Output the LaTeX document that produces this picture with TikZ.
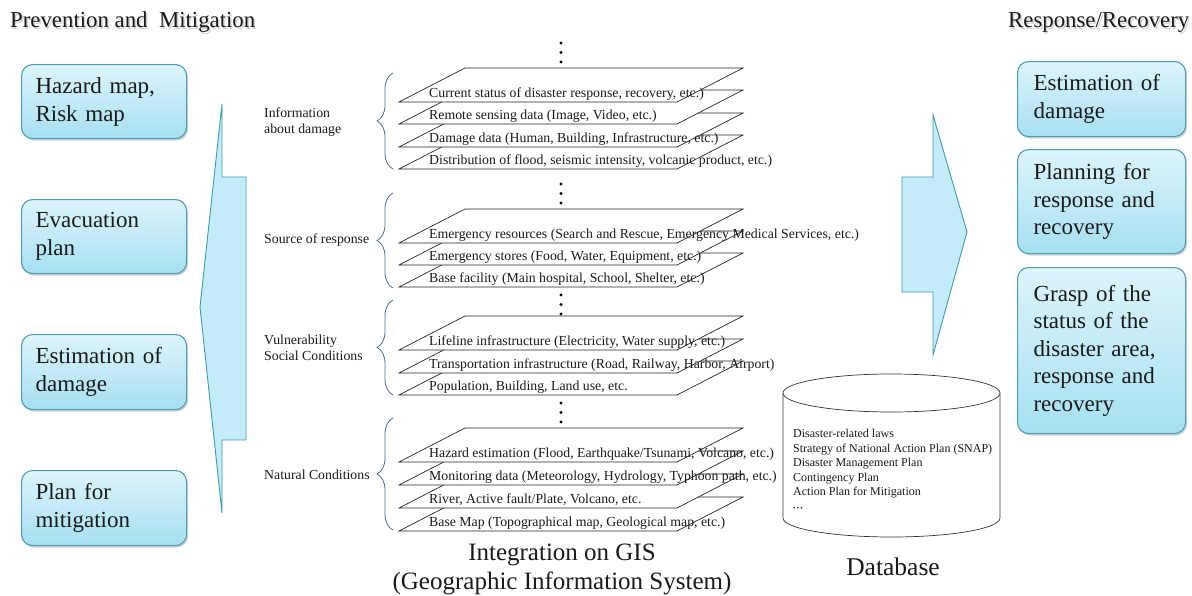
\documentclass[tikz,border=0pt]{standalone}
\usepackage{fontspec}
\setmainfont{Liberation Serif}
\usetikzlibrary{decorations.pathreplacing,shadows}
\definecolor{boxline}{HTML}{4E9DB4}
\definecolor{boxtop}{HTML}{DDF4FB}
\definecolor{boxbot}{HTML}{A6E0F1}
\definecolor{arrfill}{HTML}{C4ECF8}
\definecolor{arrline}{HTML}{3F9AAE}
\definecolor{bracec}{HTML}{4F6F8F}
\definecolor{txt}{HTML}{1A1A1A}
\begin{document}
\begin{tikzpicture}[x=1pt,y=-1pt,
  layer/.style={draw=black!85,fill=white,line width=0.7pt,line join=miter},
  laytext/.style={font=\fontsize{13.8}{16}\selectfont,anchor=base west,inner sep=0pt,text=txt},
  grouplabel/.style={font=\fontsize{13.8}{16.5}\selectfont,anchor=west,align=left,inner sep=0pt,text=txt},
  bracestyle/.style={draw=bracec,line width=0.8pt,decorate,decoration={brace,amplitude=16pt}},
  bigarrow/.style={fill=arrfill,draw=arrline,line width=0.9pt,line join=miter},
  cbox/.style={rounded corners=11pt,draw=boxline,line width=1.1pt,top color=boxtop,bottom color=boxbot,
    drop shadow={shadow xshift=1.5pt,shadow yshift=-2pt,opacity=0.35},
    text=txt,align=left,anchor=north west,inner ysep=0pt},
  lbox/.style={cbox,inner xsep=14pt,text width=137pt,font=\fontsize{23}{28}\selectfont},
  rbox/.style={cbox,inner xsep=16pt,text width=136pt,font=\fontsize{23}{27.5}\selectfont},
  title/.style={font=\fontsize{22.8}{26}\selectfont,text=txt,inner sep=0pt,anchor=west},
  tshadow/.style={title,text=black,opacity=0.18},
  dot/.style={fill=black}
]
\useasboundingbox (0,0) rectangle (1192,595);

% titles (with soft shadow)
\node[tshadow] (tlefts) at (11.5,24) {Prevention and~ Mitigation};
\node[tshadow] (trights) at (1009.5,24) {Response/Recovery};
\node[title] (tleft) at (10,22) {Prevention and~ Mitigation};
\node[title] (tright) at (1008,22) {Response/Recovery};

% left boxes
\node[lbox,minimum height=74pt] (hz) at (21,64) {Hazard map,\\Risk map};
\node[lbox,minimum height=74pt] (ev) at (21,199) {Evacuation\\plan};
\node[lbox,minimum height=75pt] (es) at (21,334) {Estimation of\\damage};
\node[lbox,minimum height=75pt] (pm) at (21,470) {Plan for\\mitigation};

% right boxes
\node[rbox,minimum height=75pt] (red) at (1017,61) {Estimation of\\damage};
\node[rbox,minimum height=104pt] (rpl) at (1017,149) {Planning for\\response and\\recovery};
\node[rbox,minimum height=166pt] (rgr) at (1017,267) {Grasp of the\\status of the\\disaster area,\\response and\\recovery};

% left arrow (pointing left)
\draw[bigarrow] (222,104) -- (222,177) -- (246,177) -- (246,440) -- (222,440) -- (222,513) -- (200,307) -- cycle;
% right arrow (pointing right)
\draw[bigarrow] (933,115) -- (967,232) -- (933,355) -- (933,292) -- (902,292) -- (902,177) -- (933,177) -- cycle;

% layers: bottom y given
\newcommand\lay[1]{\draw[layer] (399,#1) -- (677,#1) -- (743,{#1-34}) -- (465,{#1-34}) -- cycle;}
\newcommand\vdotsat[1]{\fill[dot] (561,#1) circle (1.7); \fill[dot] (561,{#1+9.5}) circle (1.7); \fill[dot] (561,{#1+19}) circle (1.7);}

% group 1
\vdotsat{43}
\lay{169}\lay{147}\lay{124}\lay{102}
\node[laytext] (g1a) at (429,97.5) {Current status of disaster response, recovery, etc.)};
\node[laytext] (g1b) at (429,119.5) {Remote sensing data (Image, Video, etc.)};
\node[laytext] (g1c) at (429,142.5) {Damage data (Human, Building, Infrastructure, etc.)};
\node[laytext] (g1d) at (429,164.5) {Distribution of flood, seismic intensity, volcanic product, etc.)};
\draw[bracestyle] (393,169) -- (393,73);
\node[grouplabel] (lab1) at (264,122) {Information\\about damage};

% group 2
\vdotsat{184}
\lay{287}\lay{265}\lay{243}
\node[laytext] (g2a) at (429,238.5) {Emergency resources (Search and Rescue, Emergency Medical Services, etc.)};
\node[laytext] (g2b) at (429,260.5) {Emergency stores (Food, Water, Equipment, etc.)};
\node[laytext] (g2c) at (429,282.5) {Base facility (Main hospital, School, Shelter, etc.)};
\draw[bracestyle] (393,288) -- (393,193);
\node[grouplabel] (lab2) at (264,240) {Source of response};

% group 3
\vdotsat{295}
\lay{395}\lay{373}\lay{350}
\node[laytext] (g3a) at (429,345.5) {Lifeline infrastructure (Electricity, Water supply, etc.)};
\node[laytext] (g3b) at (429,368.5) {Transportation infrastructure (Road, Railway, Harbor, Airport)};
\node[laytext] (g3c) at (429,390.5) {Population, Building, Land use, etc.};
\draw[bracestyle] (393,395) -- (393,300);
\node[grouplabel] (lab3) at (264,348) {Vulnerability\\Social Conditions};

% group 4
\vdotsat{403}
\lay{531}\lay{508}\lay{485}\lay{462}
\node[laytext] (g4a) at (429,457.5) {Hazard estimation (Flood, Earthquake/Tsunami, Volcano, etc.)};
\node[laytext] (g4b) at (429,480.5) {Monitoring data (Meteorology, Hydrology, Typhoon path, etc.)};
\node[laytext] (g4c) at (429,503.5) {River, Active fault/Plate, Volcano, etc.};
\node[laytext] (g4d) at (429,526.5) {Base Map (Topographical map, Geological map, etc.)};
\draw[bracestyle] (393,530) -- (393,418);
\node[grouplabel] (lab4) at (264,475) {Natural Conditions};

% GIS caption
\node[font=\fontsize{25}{29}\selectfont,align=center,text=txt,inner sep=0pt] (gis) at (562,569) {Integration on GIS\\(Geographic Information System)};

% database cylinder
\draw[draw=black!80,fill=white,line width=0.7pt] (783,393) -- (783,518) arc[start angle=180,end angle=360,x radius=108.5,y radius=-19] -- (1000,393);
\draw[draw=black!80,fill=white,line width=0.7pt] (891.5,393) ellipse[x radius=108.5,y radius=19];
\node[font=\fontsize{12}{14.6}\selectfont,align=left,anchor=north west,inner sep=0pt,text=txt] (dbtext) at (793,429)
 {Disaster-related laws\\Strategy of National Action Plan (SNAP)\\Disaster Management Plan\\Contingency Plan\\Action Plan for Mitigation\\{\fontsize{7}{14.6}\selectfont •\,•\,•}};
\node[font=\fontsize{25.5}{28}\selectfont,text=txt,inner sep=0pt] (db) at (893,567) {Database};
\end{tikzpicture}
\end{document}
